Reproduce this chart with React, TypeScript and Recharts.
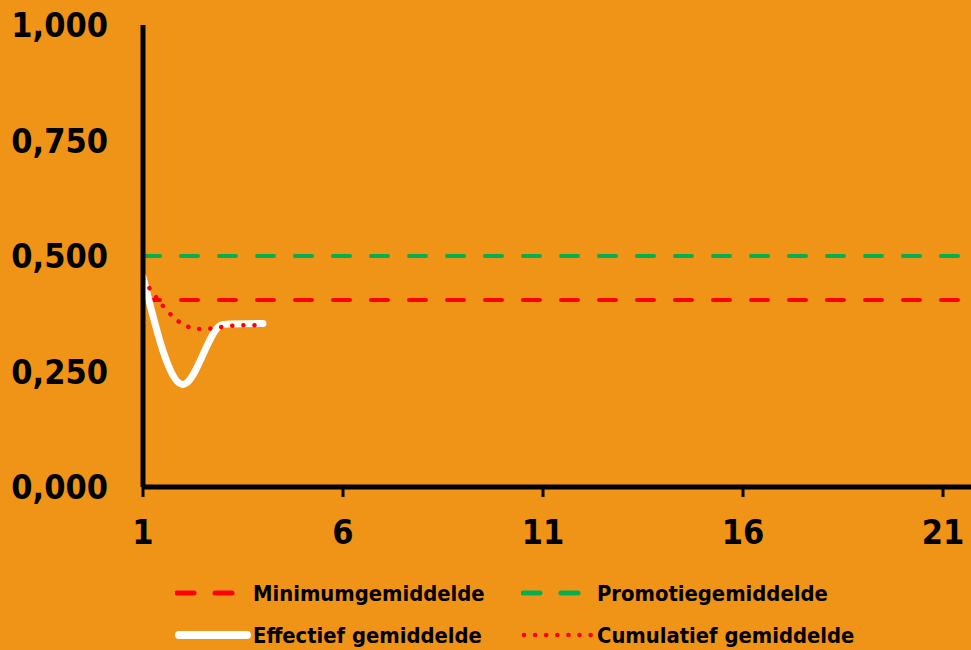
import { LineChart, Line, XAxis, YAxis, ReferenceLine } from "recharts";

const ROUNDS = [1, 2, 3, 4];
const EFFECTIEF = [0.455, 0.222, 0.352, 0.354];
const CUMULATIEF = [0.45, 0.352, 0.347, 0.35];
const MINIMUM_GEMIDDELDE = 0.405;
const PROMOTIE_GEMIDDELDE = 0.5;
const X_TICKS = [1, 6, 11, 16, 21];
const Y_TICKS = [0, 0.25, 0.5, 0.75, 1];

const BG = "#F09418";
const RED = "#FF0000";
const GREEN = "#00B050";

const data = ROUNDS.map((r, i) => ({
  round: r,
  effectief: EFFECTIEF[i],
  cumulatief: CUMULATIEF[i],
}));

const fmt = (v: number) => v.toFixed(3).replace(".", ",");

const FONT = "'DejaVu Sans Condensed', 'DejaVu Sans', sans-serif";

function LegendItem({
  x,
  y,
  label,
  icon,
}: {
  x: number;
  y: number;
  label: string;
  icon: React.ReactNode;
}) {
  return (
    <div
      style={{
        position: "absolute",
        left: x,
        top: y - 14,
        height: 28,
        display: "flex",
        alignItems: "center",
        fontFamily: FONT,
        fontWeight: "bold",
        fontSize: 21.8,
        color: "#000",
        whiteSpace: "nowrap",
      }}
    >
      {icon}
      <span>{label}</span>
    </div>
  );
}

export default function App() {
  return (
    <div
      style={{
        position: "absolute",
        left: 0,
        top: 0,
        width: 971,
        height: 650,
        background: BG,
        overflow: "hidden",
      }}
    >
      <LineChart
        width={971}
        height={650}
        data={data}
        margin={{ top: 25, right: 0, left: 0, bottom: 0 }}
      >
        <XAxis
          dataKey="round"
          type="number"
          domain={[1, 21.7]}
          ticks={X_TICKS}
          allowDataOverflow
          height={163}
          axisLine={{ stroke: "#000", strokeWidth: 5 }}
          tickLine={{ stroke: "#000", strokeWidth: 3 }}
          tickSize={10}
          tickMargin={23}
          tick={{ fill: "#000", fontSize: 34, fontWeight: "bold", fontFamily: FONT }}
        />
        <YAxis
          domain={[0, 1]}
          ticks={Y_TICKS}
          width={143}
          tickFormatter={fmt}
          axisLine={{ stroke: "#000", strokeWidth: 5 }}
          tickLine={false}
          tickSize={0}
          tickMargin={35}
          tick={{ fill: "#000", fontSize: 34, fontWeight: "bold", fontFamily: FONT }}
        />
        <ReferenceLine
          y={PROMOTIE_GEMIDDELDE}
          stroke={GREEN}
          strokeWidth={4}
          strokeDasharray="17 21"
          strokeLinecap="round"
        />
        <ReferenceLine
          y={MINIMUM_GEMIDDELDE}
          stroke={RED}
          strokeWidth={4}
          strokeDasharray="17 21"
          strokeLinecap="round"
        />
        <Line
          type="monotone"
          dataKey="effectief"
          stroke="#FFFFFF"
          strokeWidth={7}
          strokeLinecap="round"
          dot={false}
          isAnimationActive={false}
        />
        <Line
          type="natural"
          dataKey="cumulatief"
          stroke={RED}
          strokeWidth={4.5}
          strokeDasharray="0.1 11"
          strokeLinecap="round"
          dot={false}
          isAnimationActive={false}
        />
      </LineChart>

      <LegendItem
        x={175}
        y={593}
        label="Minimumgemiddelde"
        icon={
          <svg width={78} height={10}>
            <line x1={2} y1={5} x2={58} y2={5} stroke={RED} strokeWidth={5} strokeDasharray="17 21" strokeLinecap="round" />
          </svg>
        }
      />
      <LegendItem
        x={521}
        y={593}
        label="Promotiegemiddelde"
        icon={
          <svg width={76} height={10}>
            <line x1={2} y1={5} x2={58} y2={5} stroke={GREEN} strokeWidth={5} strokeDasharray="17 21" strokeLinecap="round" />
          </svg>
        }
      />
      <LegendItem
        x={175}
        y={635}
        label="Effectief gemiddelde"
        icon={
          <svg width={78} height={12}>
            <line x1={4} y1={6} x2={72} y2={6} stroke="#FFFFFF" strokeWidth={8} strokeLinecap="round" />
          </svg>
        }
      />
      <LegendItem
        x={521}
        y={635}
        label="Cumulatief gemiddelde"
        icon={
          <svg width={76} height={10}>
            <line x1={3} y1={5} x2={70} y2={5} stroke={RED} strokeWidth={4.5} strokeDasharray="0.1 11" strokeLinecap="round" />
          </svg>
        }
      />
    </div>
  );
}
